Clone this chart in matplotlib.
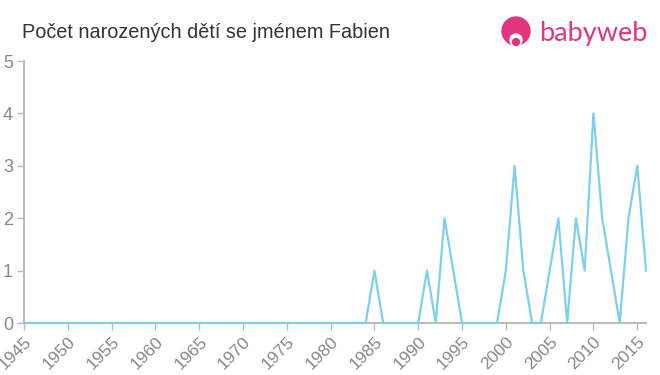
import numpy as np
import matplotlib
matplotlib.use('Agg')
import matplotlib.pyplot as plt
from matplotlib.patches import Circle

years = list(range(1945, 2017))
counts_by_year = {1985: 1, 1991: 1, 1993: 2, 1994: 1, 2000: 1, 2001: 3,
                  2002: 1, 2005: 1, 2006: 2, 2008: 2, 2009: 1, 2010: 4,
                  2011: 2, 2012: 1, 2014: 2, 2015: 3, 2016: 1}
counts = [counts_by_year.get(y, 0) for y in years]
xticks = list(range(1945, 2020, 5))
yticks = [0, 1, 2, 3, 4, 5]

plt.rcParams['font.family'] = ['Liberation Sans', 'DejaVu Sans']

fig = plt.figure(figsize=(6.6, 3.75), dpi=100)
ax = fig.add_axes([24 / 660, 52 / 375, 622 / 660, 262 / 375])

ax.plot(years, counts, color='#7dcfec', linewidth=1.6, clip_on=False, zorder=3)

ax.set_xlim(1945, 2016)
ax.set_ylim(0, 5)
ax.set_xticks(xticks)
ax.set_xticklabels([str(x) for x in xticks], rotation=45, ha='right',
                   rotation_mode='anchor', fontsize=12.5, color='#888888')
ax.set_yticks(yticks)
ax.set_yticklabels([str(y) for y in yticks], fontsize=13, color='#888888')
ax.tick_params(axis='x', length=5, width=1, color='#bbbbbb', pad=3)
ax.tick_params(axis='y', length=5, width=1, color='#bbbbbb', pad=3)

for s in ['top', 'right']:
    ax.spines[s].set_visible(False)
for s in ['left', 'bottom']:
    ax.spines[s].set_color('#bbbbbb')
    ax.spines[s].set_linewidth(1.5)

fig.text(22 / 660, 1 - 32 / 375, 'Počet narozených dětí se jménem Fabien',
         fontsize=14.3, color='#333333', va='center', ha='left')

# logo
pink = '#e0367f'
logo = fig.add_axes([0, 0, 1, 1], zorder=-1)
logo.set_xlim(0, 660)
logo.set_ylim(375, 0)
logo.axis('off')
logo.add_patch(Circle((516, 31), 14, color=pink))
logo.add_patch(Circle((516, 40), 6, color='white'))
logo.add_patch(Circle((516, 42), 3.5, color=pink))
fig.text(539 / 660, 1 - 33 / 375, 'babyweb', fontsize=19.5, color=pink,
         va='center', ha='left', family=['Lato', 'DejaVu Sans'])

fig.savefig('out.png', dpi=100)
